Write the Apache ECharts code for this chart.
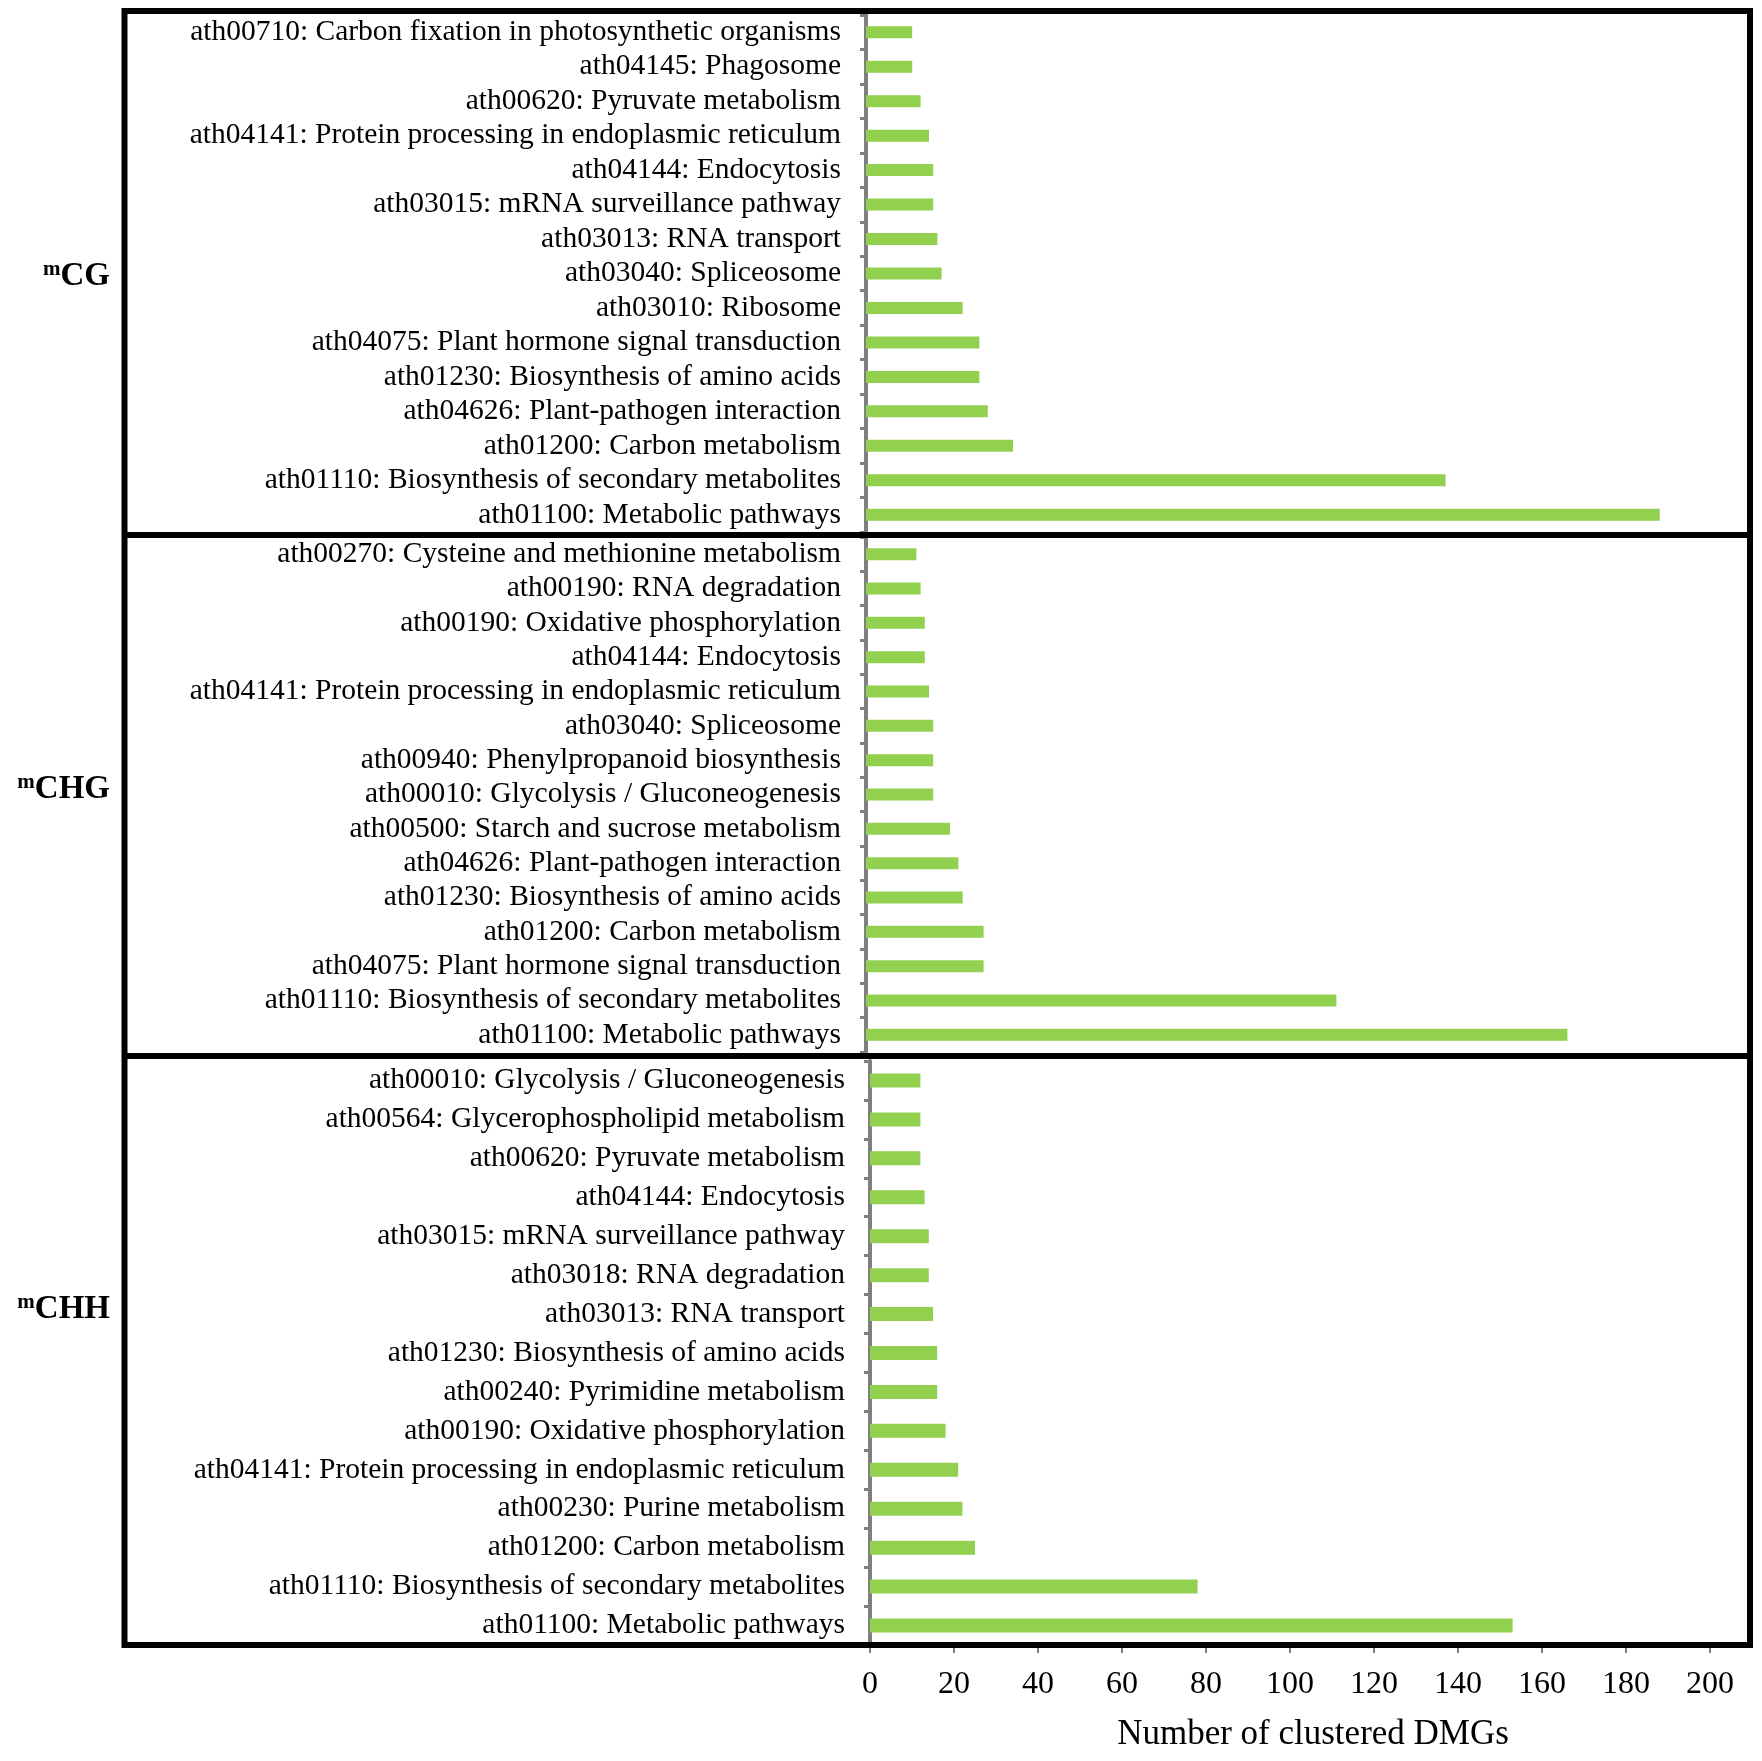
<!DOCTYPE html>
<html>
<head>
<meta charset="utf-8">
<script src="https://cdn.jsdelivr.net/npm/echarts@6/dist/echarts.min.js"></script>
<style>
  html, body { margin: 0; padding: 0; background: #fff; }
  #chart { width: 1762px; height: 1761px; }
</style>
</head>
<body>
<div id="chart"></div>
<script>
// ---- Data (top-to-bottom order within each panel) ----
const groupNames = ["CG", "CHG", "CHH"];

const cgCategories = [
  "ath00710: Carbon fixation in photosynthetic organisms",
  "ath04145: Phagosome",
  "ath00620: Pyruvate metabolism",
  "ath04141: Protein processing in endoplasmic reticulum",
  "ath04144: Endocytosis",
  "ath03015: mRNA surveillance pathway",
  "ath03013: RNA transport",
  "ath03040: Spliceosome",
  "ath03010: Ribosome",
  "ath04075: Plant hormone signal transduction",
  "ath01230: Biosynthesis of amino acids",
  "ath04626: Plant-pathogen interaction",
  "ath01200: Carbon metabolism",
  "ath01110: Biosynthesis of secondary metabolites",
  "ath01100: Metabolic pathways"
];
const cgValues = [11, 11, 13, 15, 16, 16, 17, 18, 23, 27, 27, 29, 35, 138, 189];

const chgCategories = [
  "ath00270: Cysteine and methionine metabolism",
  "ath00190: RNA degradation",
  "ath00190: Oxidative phosphorylation",
  "ath04144: Endocytosis",
  "ath04141: Protein processing in endoplasmic reticulum",
  "ath03040: Spliceosome",
  "ath00940: Phenylpropanoid biosynthesis",
  "ath00010: Glycolysis / Gluconeogenesis",
  "ath00500: Starch and sucrose metabolism",
  "ath04626: Plant-pathogen interaction",
  "ath01230: Biosynthesis of amino acids",
  "ath01200: Carbon metabolism",
  "ath04075: Plant hormone signal transduction",
  "ath01110: Biosynthesis of secondary metabolites",
  "ath01100: Metabolic pathways"
];
const chgValues = [12, 13, 14, 14, 15, 16, 16, 16, 20, 22, 23, 28, 28, 112, 167];

const chhCategories = [
  "ath00010: Glycolysis / Gluconeogenesis",
  "ath00564: Glycerophospholipid metabolism",
  "ath00620: Pyruvate metabolism",
  "ath04144: Endocytosis",
  "ath03015: mRNA surveillance pathway",
  "ath03018: RNA degradation",
  "ath03013: RNA transport",
  "ath01230: Biosynthesis of amino acids",
  "ath00240: Pyrimidine metabolism",
  "ath00190: Oxidative phosphorylation",
  "ath04141: Protein processing in endoplasmic reticulum",
  "ath00230: Purine metabolism",
  "ath01200: Carbon metabolism",
  "ath01110: Biosynthesis of secondary metabolites",
  "ath01100: Metabolic pathways"
];
const chhValues = [12, 12, 12, 13, 14, 14, 15, 16, 16, 18, 21, 22, 25, 78, 153];

const xTicks = [0, 20, 40, 60, 80, 100, 120, 140, 160, 180, 200];
const xAxisTitle = "Number of clustered DMGs";

// ---- Layout / style ----
const FONT = "'Liberation Serif', 'Times New Roman', serif";
const BAR_COLOR = "#92D050";
const AXIS_GRAY = "#7f7f7f";

const grids = [
  { left: 866, right: 56, top: 15, height: 517 },
  { left: 866, right: 56, top: 537, height: 515 },
  { left: 870, right: 52, top: 1061, height: 584 }
];
const panels = [
  { cats: cgCategories, vals: cgValues, barWidth: 12 },
  { cats: chgCategories, vals: chgValues, barWidth: 12 },
  { cats: chhCategories, vals: chhValues, barWidth: 14 }
];

const xAxes = panels.map((p, i) => ({
  type: "value",
  gridIndex: i,
  min: xTicks[0],
  max: xTicks[xTicks.length - 1],
  interval: xTicks[1] - xTicks[0],
  show: i === 2,
  splitLine: { show: false },
  axisLine: { show: false },
  axisTick: { show: i === 2, length: 8, lineStyle: { color: AXIS_GRAY, width: 2 } },
  axisLabel: { show: i === 2, fontFamily: FONT, fontSize: 32, color: "#000", margin: 24 },
  name: i === 2 ? xAxisTitle : "",
  nameLocation: "middle",
  nameGap: 72,
  nameTextStyle: { fontFamily: FONT, fontSize: 35, color: "#000", padding: [0, 0, 0, 46] }
}));

const yAxes = panels.map((p, i) => ({
  type: "category",
  gridIndex: i,
  inverse: true,
  data: p.cats,
  axisLine: { show: true, lineStyle: { color: AXIS_GRAY, width: 4 } },
  axisTick: { show: true, interval: 0, length: 6, lineStyle: { color: AXIS_GRAY, width: 3 } },
  axisLabel: { interval: 0, fontFamily: FONT, fontSize: 29.5, color: "#000", margin: 25 },
  splitLine: { show: false }
}));

const series = panels.map((p, i) => ({
  type: "bar",
  xAxisIndex: i,
  yAxisIndex: i,
  data: p.vals,
  barWidth: p.barWidth,
  itemStyle: { color: BAR_COLOR },
  silent: true
}));

const groupLabelY = [276, 789, 1309];
const groupTexts = groupNames.map((g, i) => ({
  type: "text",
  x: 110,
  y: groupLabelY[i],
  style: {
    text: "{m|m}{b|" + g + "}",
    align: "right",
    verticalAlign: "middle",
    fill: "#000",
    rich: {
      m: { fontFamily: FONT, fontSize: 21, fontWeight: "bold", fill: "#000", verticalAlign: "top", lineHeight: 33, padding: [0, 0, 14, 0] },
      b: { fontFamily: FONT, fontSize: 33, fontWeight: "bold", fill: "#000", lineHeight: 33 }
    }
  }
}));

const BORDER = 6;
const frames = [
  { type: "rect", shape: { x: 124.5, y: 11, width: 1625.5, height: 1634 },
    style: { fill: "none", stroke: "#000", lineWidth: BORDER }, z: 100 },
  { type: "line", shape: { x1: 124.5, y1: 535, x2: 1750, y2: 535 },
    style: { stroke: "#000", lineWidth: BORDER }, z: 100 },
  { type: "line", shape: { x1: 124.5, y1: 1056, x2: 1750, y2: 1056 },
    style: { stroke: "#000", lineWidth: BORDER }, z: 100 }
];

const chart = echarts.init(document.getElementById("chart"), null, { renderer: "canvas" });
chart.setOption({
  backgroundColor: "#fff",
  animation: false,
  grid: grids,
  xAxis: xAxes,
  yAxis: yAxes,
  series: series,
  graphic: frames.concat(groupTexts)
});
</script>
</body>
</html>
